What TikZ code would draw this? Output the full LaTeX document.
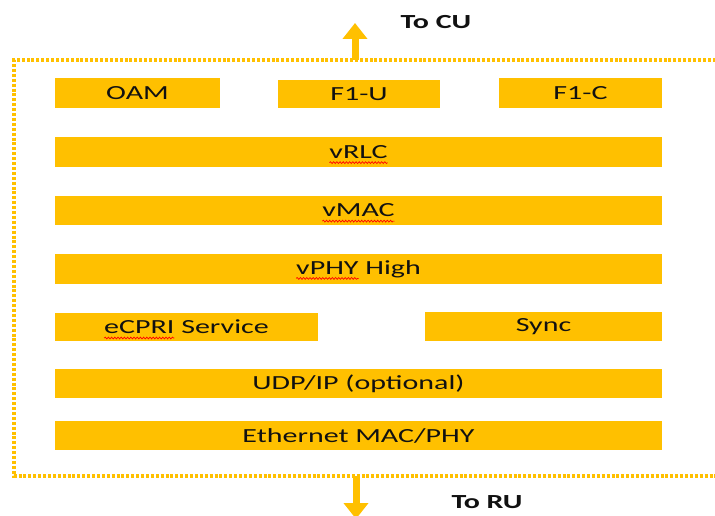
\documentclass[tikz,border=0pt]{standalone}
\usepackage{fontspec}
\setmainfont{Carlito}[FakeStretch=1.5]
\usetikzlibrary{arrows.meta,decorations.pathmorphing}
\definecolor{gold}{HTML}{FFC000}
\definecolor{ink}{HTML}{111111}
% red wavy underline, as left by a spell checker
\newsavebox\wavebox
\newcommand\spellwave[1]{\sbox\wavebox{#1}\makebox[0pt][l]{\usebox\wavebox}%
  \begin{tikzpicture}[baseline=0pt, x=1pt, y=1pt]
    \useasboundingbox (0,0) rectangle (\the\wd\wavebox,0.1);
    \draw[red, line width=0.7pt, decorate,
      decoration={snake, amplitude=0.9pt, segment length=3.2pt}]
      (0,-4.2) -- (\the\wd\wavebox,-4.2);
  \end{tikzpicture}}
\tikzset{
  layer/.style={fill=gold, draw=none, inner sep=0pt, text=ink,
    font=\fontsize{20}{22}\selectfont},
  frame/.style={draw=gold, line width=3.2pt, dash pattern=on 3pt off 1.9pt},
  flow/.style={draw=gold, line width=7pt, -{Triangle[width=24pt,length=16pt]}},
  caption/.style={text=ink, font=\fontsize{20}{22}\selectfont\bfseries, inner sep=0pt}
}
\begin{document}
\begin{tikzpicture}[x=1pt, y=-1pt]
\useasboundingbox (0,0) rectangle (715,516);
% dotted outline of the DU (right side runs off the page)
\coordinate (fTL) at (14,60);
\coordinate (fBL) at (14,476);
\coordinate (fTR) at (740,60);
\coordinate (fBR) at (740,476);
\draw[frame] (fTR) -- (fTL) -- (fBL) -- (fBR);
% protocol layers
\node[layer, minimum width=165pt, minimum height=30pt] (oam) at (137.5,93) {OAM};
\node[layer, minimum width=162pt, minimum height=28pt] (f1u) at (359,94) {F1-U};
\node[layer, minimum width=163pt, minimum height=30pt] (f1c) at (580.5,93) {F1-C};
\node[layer, minimum width=607pt, minimum height=30pt] (rlc) at (358.5,152) {\spellwave{vRLC}};
\node[layer, minimum width=607pt, minimum height=29pt] (mac) at (358.5,210.5) {\spellwave{vMAC}};
\node[layer, minimum width=607pt, minimum height=30pt] (phy) at (358.5,269) {\spellwave{vPHY} High};
\node[layer, minimum width=263pt, minimum height=28pt] (ecpri) at (186.5,327) {\spellwave{eCPRI} Service};
\node[layer, minimum width=237pt, minimum height=29pt] (sync) at (543.5,326.5) {Sync};
\node[layer, minimum width=607pt, minimum height=29pt] (udp) at (358.5,383.5) {UDP/IP (optional)};
\node[layer, minimum width=607pt, minimum height=29pt] (eth) at (358.5,435.5) {Ethernet MAC/PHY};
% interfaces towards CU and RU
\coordinate (upStart) at (355,60);
\coordinate (upTip) at (355,23);
\coordinate (dnStart) at (356,476);
\coordinate (dnTip) at (356,519);
\draw[flow] (upStart) -- (upTip);
\draw[flow] (dnStart) -- (dnTip);
\node[caption] (cu) at (436,22) {To CU};
\node[caption] (ru) at (487,502) {To RU};
\end{tikzpicture}
\end{document}
